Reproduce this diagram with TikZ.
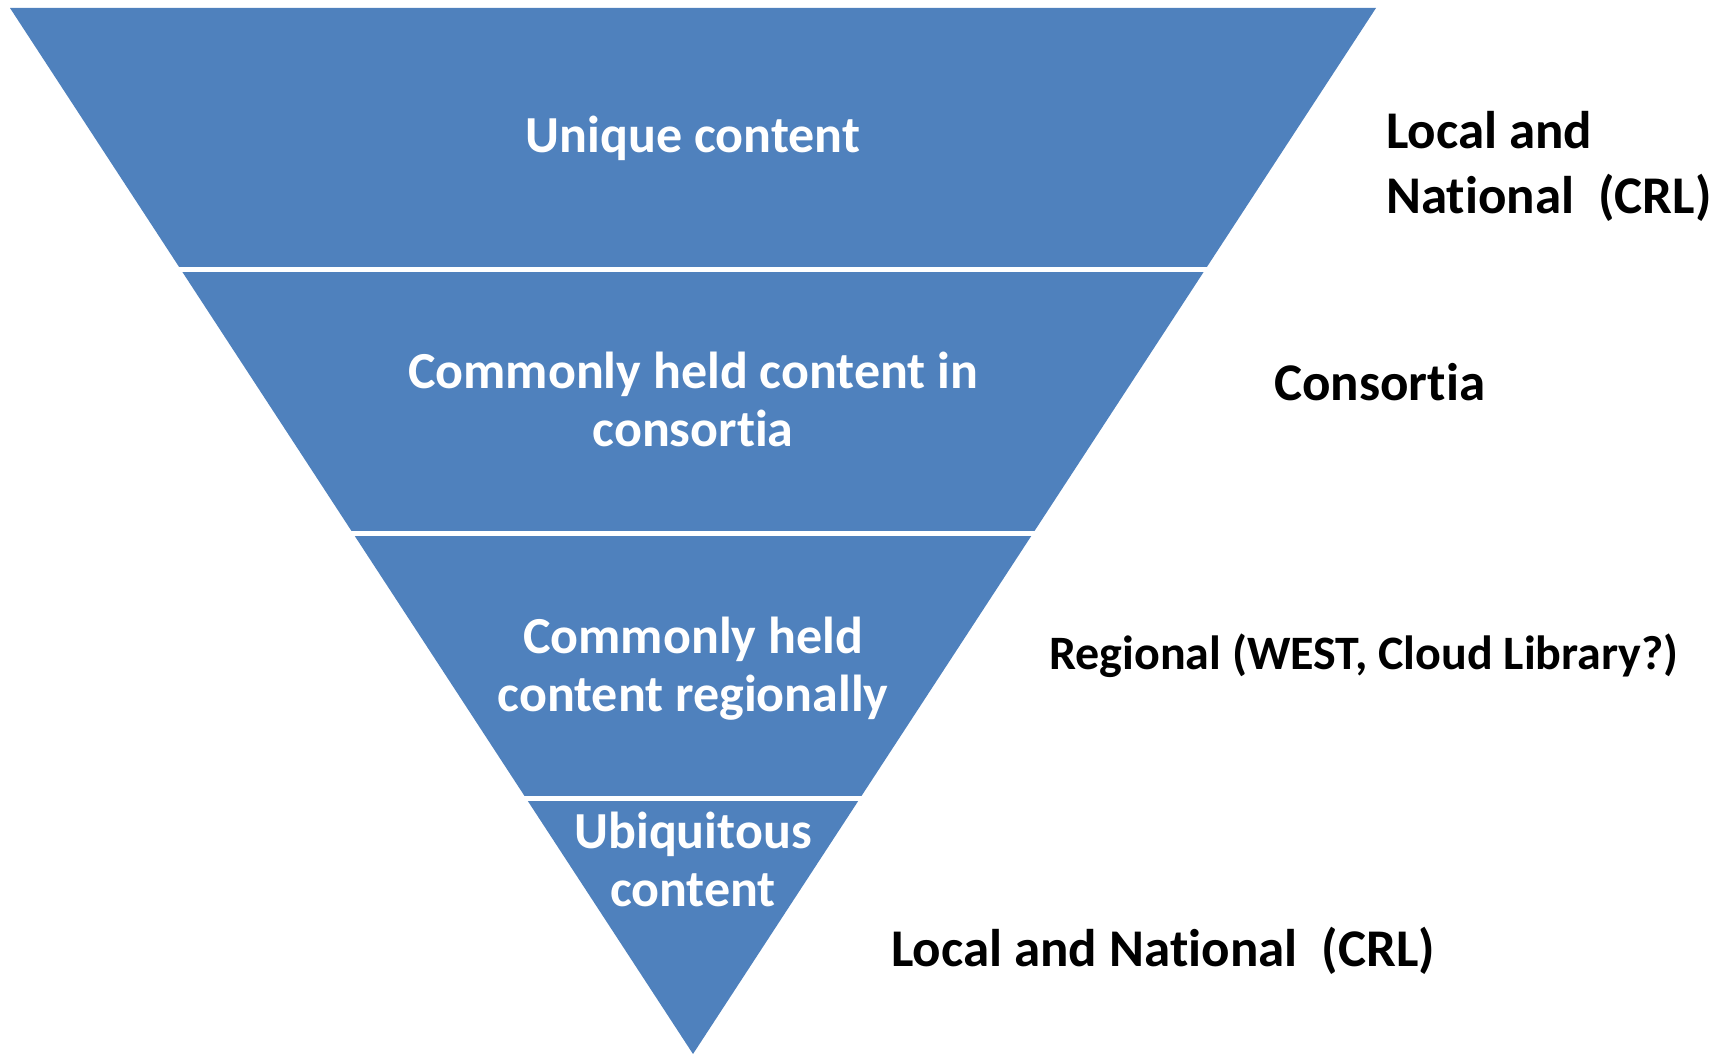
\documentclass[tikz,border=0pt]{standalone}
\usepackage{fontspec}
\setmainfont{Carlito}[Ligatures={NoCommon}]
\definecolor{tierblue}{RGB}{79,129,189}
\tikzset{
  tiertext/.style={text=white, font=\bfseries\fontsize{52}{58}\selectfont, anchor=base, inner sep=0pt},
  sidetext/.style={text=black, font=\bfseries\fontsize{53}{65}\selectfont, anchor=base west, inner sep=0pt},
  gapline/.style={white, line width=5pt}
}
\begin{document}
\begin{tikzpicture}[x=1pt, y=-1pt]
\useasboundingbox (0,0) rectangle (1723,1054);
% inverted pyramid
\fill[tierblue] (10,8) -- (1376,8) -- (693,1054) -- cycle;
% gaps between tiers
\draw[gapline] (170,269.5) -- (1216,269.5);
\draw[gapline] (340,533.5) -- (1046,533.5);
\draw[gapline] (515,798) -- (871,798);
% tier labels
\node[tiertext] (t1) at (693,153) {Unique content};
\node[tiertext] (t2) at (693,388) {\begin{tabular}[t]{@{}c@{}}Commonly held content in\\consortia\end{tabular}};
\node[tiertext] (t3) at (693,653) {\begin{tabular}[t]{@{}c@{}}Commonly held\\content regionally\end{tabular}};
\node[tiertext] (t4) at (693,848) {\begin{tabular}[t]{@{}c@{}}Ubiquitous\\content\end{tabular}};
% side labels
\node[sidetext] (s1) at (1386,148) {\begin{tabular}[t]{@{}l@{}}Local and\\National~ (CRL)\end{tabular}};
\node[sidetext] (s2) at (1274,400) {Consortia};
\node[sidetext, font=\bfseries\fontsize{48}{56}\selectfont] (s3) at (1049,669) {Regional (WEST, Cloud Library?)};
\node[sidetext] (s4) at (891,966) {Local and National~ (CRL)};
\end{tikzpicture}
\end{document}
